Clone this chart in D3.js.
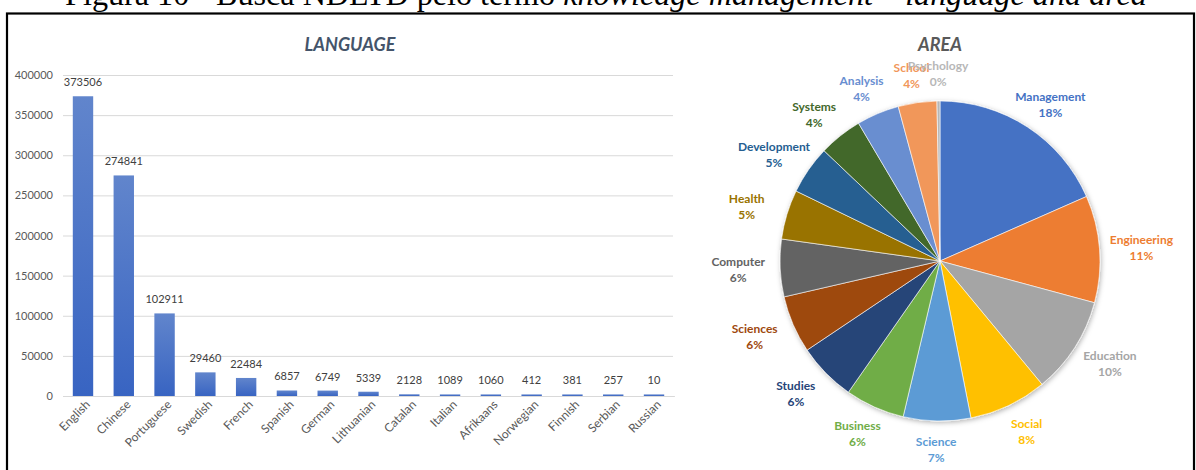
<!DOCTYPE html>
<html>
<head>
<meta charset="utf-8">
<script src="https://cdn.jsdelivr.net/npm/d3@7"></script>
<style>
  html, body { margin: 0; padding: 0; background: #fff; }
  svg { display: block; }
</style>
</head>
<body>
<svg id="fig" width="1196" height="470"></svg>
<script>
// Theses per language
const languages = ["English", "Chinese", "Portuguese", "Swedish", "French", "Spanish", "German",
  "Lithuanian", "Catalan", "Italian", "Afrikaans", "Norwegian", "Finnish", "Serbian", "Russian"];
const languageCounts = [373506, 274841, 102911, 29460, 22484, 6857, 6749, 5339, 2128, 1089, 1060, 412, 381, 257, 10];
const countTicks = [0, 50000, 100000, 150000, 200000, 250000, 300000, 350000, 400000];

// Share of theses per area (percent)
const areas = ["Management", "Engineering", "Education", "Social", "Science", "Business", "Studies",
  "Sciences", "Computer", "Health", "Development", "Systems", "Analysis", "School", "Psychology"];
const areaShares = [18.4, 10.8, 9.8, 7.9, 6.8, 6.0, 5.9, 5.8, 5.8, 5.0, 4.9, 4.4, 4.3, 3.9, 0.3];
const areaColors = ["#4472C4", "#ED7D31", "#A5A5A5", "#FFC000", "#5B9BD5", "#70AD47", "#264478",
  "#9E480E", "#636363", "#997300", "#255E91", "#43682B", "#698ED0", "#F1975A", "#B7B7B7"];

const svg = d3.select("#fig");
const uiFont = "Lato, 'Open Sans', sans-serif";

// ---- Caption and frame ----
const caption = svg.append("text")
  .attr("x", 606).attr("y", 5)
  .attr("text-anchor", "middle")
  .style("font-family", "'Liberation Serif', 'Times New Roman', serif")
  .style("font-size", "29px")
  .attr("fill", "#000");
caption.append("tspan").text("Figura 10 - Busca NDLTD pelo termo ");
caption.append("tspan").style("font-style", "italic").text("knowledge management");
caption.append("tspan").text(" – ");
caption.append("tspan").style("font-style", "italic").text("language and area");
// fit caption to its line width
const capLen = caption.node().getComputedTextLength();
caption.style("font-size", (29 * 1082 / capLen) + "px");

svg.append("rect")
  .attr("x", 7).attr("y", 13.5).attr("width", 1187).attr("height", 480)
  .attr("fill", "none").attr("stroke", "#000").attr("stroke-width", 2.2);

// ---- Bar chart ----
const defs = svg.append("defs");
const grad = defs.append("linearGradient").attr("id", "barGrad")
  .attr("x1", 0).attr("y1", 0).attr("x2", 0).attr("y2", 1);
grad.append("stop").attr("offset", "0%").attr("stop-color", "#6185cc");
grad.append("stop").attr("offset", "100%").attr("stop-color", "#3864c2");

const x = d3.scaleBand().domain(languages).range([62.6, 674.4])
  .paddingInner(0.5).paddingOuter(0.25);
const y = d3.scaleLinear().domain([0, 400000]).range([396, 75]);

svg.append("text")
  .attr("x", 350).attr("y", 51)
  .attr("text-anchor", "middle")
  .style("font-family", uiFont).style("font-size", "18px")
  .style("font-weight", "bold").style("font-style", "italic")
  .attr("fill", "#44546A")
  .text("LANGUAGE");

const yAxis = svg.append("g")
  .attr("transform", "translate(63,0)")
  .call(d3.axisLeft(y).tickValues(countTicks).tickSize(-610).tickPadding(10).tickFormat(d3.format("d")));
yAxis.select(".domain").remove();
yAxis.selectAll(".tick line").attr("stroke", "#d9d9d9").attr("stroke-width", 1);
yAxis.selectAll(".tick text")
  .style("font-family", uiFont).style("font-size", "11px").attr("fill", "#595959");

const xAxis = svg.append("g")
  .attr("transform", "translate(0,396)")
  .call(d3.axisBottom(x).tickSize(0).tickPadding(6));
xAxis.select(".domain").attr("stroke", "#d9d9d9");
xAxis.selectAll(".tick text")
  .style("font-family", uiFont).style("font-size", "12px").attr("fill", "#595959")
  .attr("text-anchor", "end")
  .attr("transform", "rotate(-45)")
  .attr("dx", "-0.1em").attr("dy", "0.5em");

const bars = languages.map((name, i) => ({ name, value: languageCounts[i] }));

svg.append("g").selectAll("rect")
  .data(bars).join("rect")
  .attr("x", d => x(d.name))
  .attr("width", x.bandwidth())
  .attr("y", d => Math.min(y(d.value), y(0) - 1.6))
  .attr("height", d => Math.max(y(0) - y(d.value), 1.6))
  .attr("fill", "url(#barGrad)");

svg.append("g").selectAll("text")
  .data(bars).join("text")
  .attr("x", d => x(d.name) + x.bandwidth() / 2)
  .attr("y", d => Math.min(y(d.value), y(0) - 1.6) - 10)
  .attr("text-anchor", "middle")
  .style("font-family", uiFont).style("font-size", "11px")
  .attr("fill", "#404040")
  .text(d => d.value);

// ---- Pie chart ----
const cx = 940, cy = 261, radius = 160;
const labelRx = 202, labelRy = 188;

svg.append("text")
  .attr("x", 940).attr("y", 51)
  .attr("text-anchor", "middle")
  .style("font-family", uiFont).style("font-size", "18px")
  .style("font-weight", "bold").style("font-style", "italic")
  .attr("fill", "#595959")
  .text("AREA");

const shadow = defs.append("filter").attr("id", "pieShadow")
  .attr("x", "-20%").attr("y", "-20%").attr("width", "140%").attr("height", "140%");
shadow.append("feDropShadow").attr("dx", 1).attr("dy", 1.5)
  .attr("stdDeviation", 2.5).attr("flood-color", "#000").attr("flood-opacity", 0.3);

const slices = areas.map((name, i) => ({ name, value: areaShares[i], color: areaColors[i] }));
const total = d3.sum(slices, d => d.value);
const pie = d3.pie().sort(null).value(d => d.value);
const arcs = pie(slices);
const arc = d3.arc().innerRadius(0).outerRadius(radius);

// label anchor on an ellipse around the pie, along each slice's mid-angle
function labelPos(d) {
  const a = (d.startAngle + d.endAngle) / 2;
  return [labelRx * Math.sin(a), -labelRy * Math.cos(a)];
}

const pieG = svg.append("g").attr("transform", `translate(${cx},${cy})`);
pieG.append("g").attr("filter", "url(#pieShadow)")
  .selectAll("path")
  .data(arcs).join("path")
  .attr("d", arc)
  .attr("fill", d => d.data.color)
  .attr("stroke", "#fff").attr("stroke-width", 0.6);

const labels = pieG.append("g").selectAll("text")
  .data(arcs).join("text")
  .attr("transform", d => `translate(${labelPos(d)})`)
  .attr("text-anchor", "middle")
  .style("font-family", uiFont).style("font-size", "12px").style("font-weight", "bold")
  .attr("fill", d => d.data.color);
labels.append("tspan").attr("x", 0).attr("dy", "-0.25em").text(d => d.data.name);
labels.append("tspan").attr("x", 0).attr("dy", "1.35em")
  .text(d => Math.round(d.data.value / total * 100) + "%");
</script>
</body>
</html>
